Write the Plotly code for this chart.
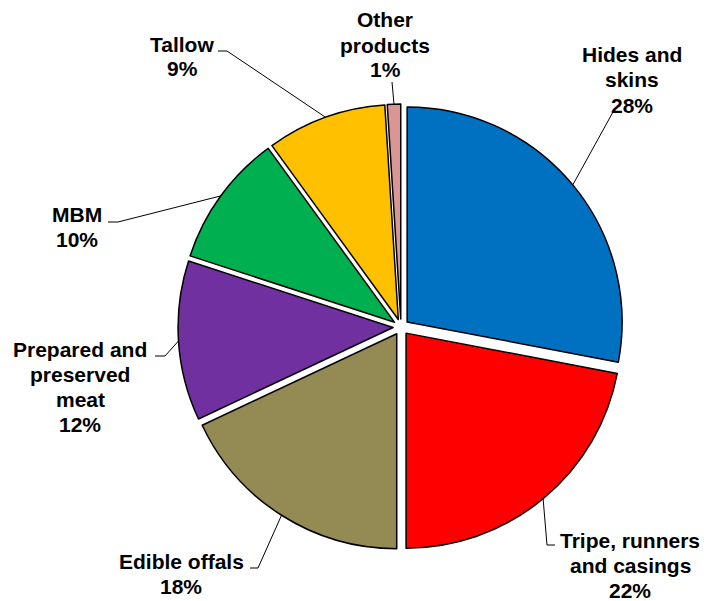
import math
import plotly.graph_objects as go

# ---- data ----
categories = ["Hides and skins", "Tripe, runners and casings", "Edible offals",
              "Prepared and preserved meat", "MBM", "Tallow", "Other products"]
shares = [28, 22, 18, 12, 10, 9, 1]
label_lines = [["Hides and", "skins"], ["Tripe, runners", "and casings"], ["Edible offals"],
               ["Prepared and", "preserved", "meat"], ["MBM"], ["Tallow"], ["Other", "products"]]
colors = ["#0070C0", "#FF0000", "#948A54", "#7030A0", "#00B050", "#FFC000", "#D99694"]

# ---- layout constants (pixels, in window coordinates) ----
OFF = 8                       # page body margin
W, H = 709 - OFF, 601 - OFF   # figure size
CX, CY = 401, 327
R = 215
PULL = 0.037
FONT = dict(family="Liberation Sans, Arial, sans-serif", size=21, color="black")
LINE_H = 25
# text centre x, first-line centre y, elbow point, tick end
label_pos = [
    (632, 55, (613, 112), (622, 112)),
    (630, 540, (547, 545), (555, 545)),
    (181, 561, (258, 568), (250, 568)),
    (80, 349, (165, 356), (155, 356)),
    (77, 214, (118, 222), (108, 222)),
    (182, 44, (227, 51), (218, 51)),
    (385, 20, (392, 82), (392, 82)),
]

def px(x, y):
    return (x - OFF) / W, 1 - (y - OFF) / H

Rdom = R * (1 + PULL)
fig = go.Figure(go.Pie(
    labels=categories, values=shares, sort=False, direction="clockwise", rotation=0,
    marker=dict(colors=colors, line=dict(color="black", width=1.5)),
    pull=[PULL] * len(shares), textinfo="none", hoverinfo="label+percent",
    domain=dict(x=[px(CX - Rdom, 0)[0], px(CX + Rdom, 0)[0]],
                y=[px(0, CY + Rdom)[1], px(0, CY - Rdom)[1]]),
    showlegend=False,
))

annotations, shapes = [], []
total = sum(shares)
cum = 0
for i, v in enumerate(shares):
    mid = 2 * math.pi * (cum + v / 2) / total
    cum += v
    rr = R * (1 + PULL)
    ax_, ay_ = CX + rr * math.sin(mid), CY - rr * math.cos(mid)
    tx, ty, elbow, end = label_pos[i]
    lines = label_lines[i] + [f"{v}%"]
    for j, t in enumerate(lines):
        x, y = px(tx, ty + j * LINE_H)
        annotations.append(dict(x=x, y=y, xref="paper", yref="paper", text=f"<b>{t}</b>",
                                showarrow=False, xanchor="center", yanchor="middle", font=FONT))
    p0, p1, p2 = px(ax_, ay_), px(*elbow), px(*end)
    shapes.append(dict(type="path", xref="paper", yref="paper",
                       path=f"M {p0[0]},{p0[1]} L {p1[0]},{p1[1]} L {p2[0]},{p2[1]}",
                       line=dict(color="black", width=1)))

fig.update_layout(width=W, height=H, margin=dict(l=0, r=0, t=0, b=0),
                  paper_bgcolor="white", plot_bgcolor="white",
                  annotations=annotations, shapes=shapes)
fig.write_html("out.html")
